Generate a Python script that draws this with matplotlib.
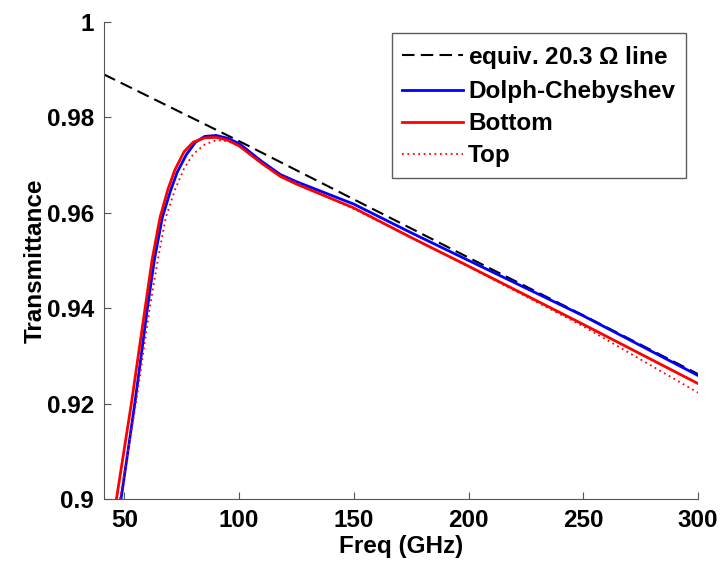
import matplotlib
matplotlib.use("Agg")
import matplotlib.pyplot as plt
import numpy as np

# equivalent 20.3 ohm line
equiv_f = [41, 100, 150, 200, 250, 300]
equiv_t = [0.9890, 0.9750, 0.9628, 0.9506, 0.9385, 0.9262]

# Dolph-Chebyshev
dc_f = [48.5, 54.5, 57, 60, 63, 66.5, 70, 73, 77, 81, 85, 90, 95, 100, 110, 118, 125, 150, 175, 200, 250, 300]
dc_t = [0.900, 0.920, 0.929, 0.940, 0.950, 0.959, 0.9645, 0.9685, 0.9722, 0.9748, 0.9760, 0.9762, 0.9756, 0.9745, 0.9707, 0.9680, 0.9665, 0.9618, 0.9558, 0.9500, 0.9384, 0.9259]

# Bottom
bot_f = [46.5, 53, 56, 59, 62, 65.5, 69, 72, 76, 80, 85, 90, 95, 100, 110, 118, 125, 150, 175, 200, 250, 300]
bot_t = [0.900, 0.920, 0.930, 0.940, 0.950, 0.959, 0.9650, 0.9690, 0.9728, 0.9748, 0.9757, 0.9758, 0.9752, 0.9740, 0.9703, 0.9676, 0.9660, 0.9610, 0.9548, 0.9488, 0.9366, 0.9242]

# Top
top_f = [48, 55, 58, 61, 64.5, 68, 72, 76, 80, 85, 90, 95, 100, 110, 118, 125, 150, 175, 200, 250, 300]
top_t = [0.900, 0.920, 0.930, 0.940, 0.950, 0.959, 0.9648, 0.9693, 0.9723, 0.9743, 0.9752, 0.9750, 0.9740, 0.9703, 0.9678, 0.9663, 0.9608, 0.9548, 0.9487, 0.9362, 0.9223]

plt.rcParams['font.family'] = ['Liberation Sans', 'DejaVu Sans']
plt.rcParams['font.weight'] = 'bold'
plt.rcParams['mathtext.default'] = 'regular'

fig = plt.figure(figsize=(7.21, 5.61), dpi=100)
ax = fig.add_axes([0.144, 0.1105, 0.824, 0.8505])

ax.plot(equiv_f, equiv_t, color='black', linestyle=(0, (6, 3)), linewidth=1.5, label='equiv. 20.3 $\\Omega$ line')
ax.plot(dc_f, dc_t, color='blue', linewidth=2, label='Dolph-Chebyshev')
ax.plot(bot_f, bot_t, color='red', linewidth=2, label='Bottom')
ax.plot(top_f, top_t, color='red', linestyle=(0, (1, 2)), linewidth=1.3, label='Top')

ax.set_xlim(41, 300)
ax.set_ylim(0.9, 1.0)
ax.set_xticks([50, 100, 150, 200, 250, 300])
ax.set_yticks([0.9, 0.92, 0.94, 0.96, 0.98, 1.0])
ax.set_yticklabels(['0.9', '0.92', '0.94', '0.96', '0.98', '1'])
ax.tick_params(direction='in', length=5, labelsize=17.5, color='#555555', pad=7)
for lbl in ax.get_xticklabels() + ax.get_yticklabels():
    lbl.set_fontweight('bold')

ax.spines['top'].set_visible(False)
ax.spines['right'].set_visible(False)
ax.spines['left'].set_color('#555555')
ax.spines['bottom'].set_color('#555555')

ax.set_xlabel('Freq (GHz)', fontsize=17.5, fontweight='bold', labelpad=2)
ax.set_ylabel('Transmittance', fontsize=17.5, fontweight='bold', labelpad=0)

leg = ax.legend(loc='upper right', fontsize=17.5, frameon=True, fancybox=False,
                edgecolor='#333333', handlelength=2.5, handletextpad=0.2,
                borderpad=0.45, labelspacing=0.38, borderaxespad=0,
                bbox_to_anchor=(0.98, 0.977))
leg.get_frame().set_linewidth(1)
for t in leg.get_texts():
    t.set_fontweight('bold')

fig.savefig('out.png', dpi=100)
